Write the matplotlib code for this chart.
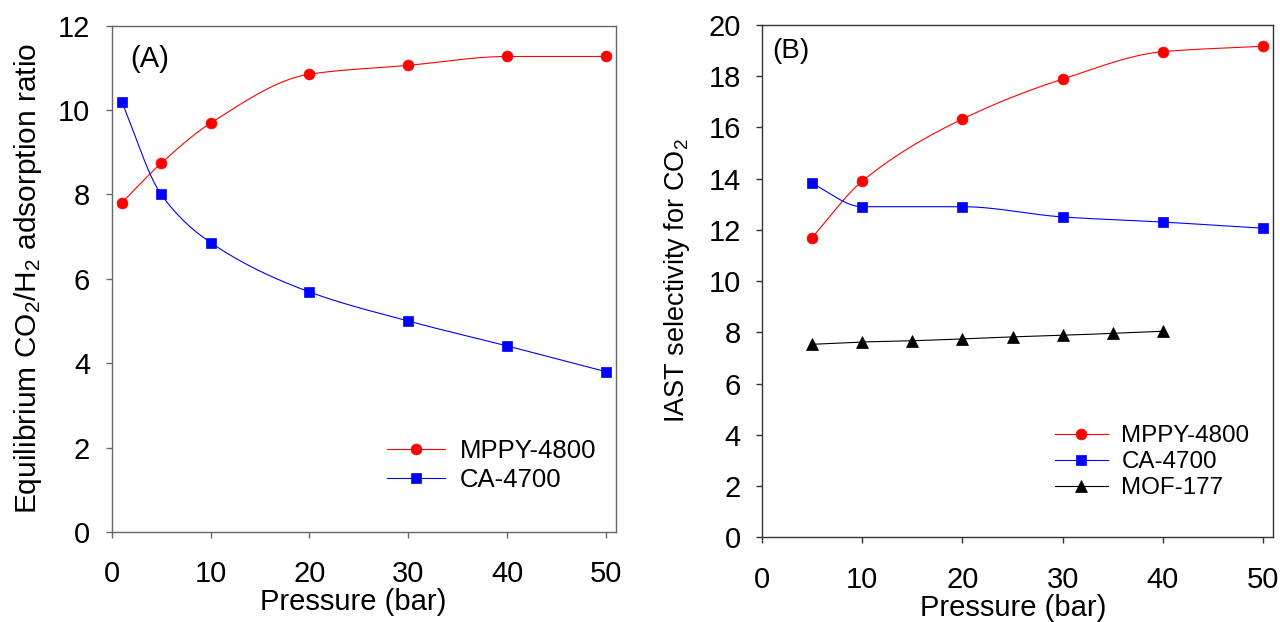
import numpy as np
import matplotlib
matplotlib.use("Agg")
import matplotlib.pyplot as plt
from matplotlib.lines import Line2D

plt.rcParams['font.family'] = ['Liberation Sans', 'DejaVu Sans']
plt.rcParams['mathtext.fontset'] = 'custom'
plt.rcParams['mathtext.rm'] = 'Liberation Sans'
plt.rcParams['mathtext.it'] = 'Liberation Sans'
plt.rcParams['mathtext.default'] = 'regular'

# Panel A data
pressure_a = [1, 5, 10, 20, 30, 40, 50]
mppy_a = [7.8, 8.74, 9.69, 10.85, 11.06, 11.27, 11.27]
ca_a = [10.2, 8.0, 6.86, 5.69, 5.0, 4.41, 3.8]

# Panel B data
pressure_b = [5, 10, 20, 30, 40, 50]
mppy_b = [11.69, 13.89, 16.32, 17.88, 18.95, 19.16]
ca_b = [13.81, 12.9, 12.9, 12.5, 12.3, 12.06]
pressure_mof = [5, 10, 15, 20, 25, 30, 35, 40]
mof_b = [7.53, 7.62, 7.67, 7.74, 7.82, 7.88, 7.96, 8.04]


def pchip(x, y, n=300):
    """Monotone cubic (Fritsch-Carlson) curve through the data points."""
    x = np.asarray(x, float)
    y = np.asarray(y, float)
    h = np.diff(x)
    d = np.diff(y) / h
    m = np.zeros_like(y)
    for k in range(1, len(x) - 1):
        if d[k - 1] * d[k] > 0:
            w1 = 2 * h[k] + h[k - 1]
            w2 = h[k] + 2 * h[k - 1]
            m[k] = (w1 + w2) / (w1 / d[k - 1] + w2 / d[k])
    m[0] = d[0]
    m[-1] = d[-1]
    xs = np.linspace(x[0], x[-1], n)
    idx = np.clip(np.searchsorted(x, xs) - 1, 0, len(x) - 2)
    t = (xs - x[idx]) / h[idx]
    hh = h[idx]
    h00 = 2 * t**3 - 3 * t**2 + 1
    h10 = t**3 - 2 * t**2 + t
    h01 = -2 * t**3 + 3 * t**2
    h11 = t**3 - t**2
    ys = h00 * y[idx] + h10 * hh * m[idx] + h01 * y[idx + 1] + h11 * hh * m[idx + 1]
    return xs, ys


RED = '#ff0000'
BLUE = '#0000ff'
FS = 21

fig = plt.figure(figsize=(12.8, 6.22), dpi=100)
axA = fig.add_axes([0.0873, 0.1447, 0.39375, 0.814])
axB = fig.add_axes([0.5951, 0.1362, 0.3997, 0.824])


def style(ax, spine_color, ypad):
    for s in ax.spines.values():
        s.set_color(spine_color)
        s.set_linewidth(1.0)
    ax.tick_params(direction='out', length=4.5, width=1, color=spine_color,
                   labelsize=FS, top=False, right=False)
    ax.tick_params(axis='x', pad=16)
    ax.tick_params(axis='y', pad=ypad)


def series(ax, x, y, color, marker, ms, label):
    xs, ys = pchip(x, y)
    ax.plot(xs, ys, color=color, lw=0.8, zorder=2)
    ax.plot(x, y, linestyle='none', marker=marker, color=color, ms=ms,
            markeredgecolor=color, markeredgewidth=0.5, zorder=3)
    return Line2D([], [], color=color, lw=0.8, marker=marker, ms=ms,
                  markeredgecolor=color, markeredgewidth=0.5, label=label)


# Panel A
hA = [series(axA, pressure_a, mppy_a, RED, 'o', 7.8, 'MPPY-4800'),
      series(axA, pressure_a, ca_a, BLUE, 's', 7.0, 'CA-4700')]
axA.set_xlim(0, 51)
axA.set_ylim(0, 12)
axA.set_xticks([0, 10, 20, 30, 40, 50])
axA.set_yticks([0, 2, 4, 6, 8, 10, 12])
style(axA, '#666666', 11)
axA.set_xlabel('Pressure (bar)', fontsize=FS, labelpad=0)
axA.xaxis.label.set_x(0.48)
axA.set_ylabel('Equilibrium CO$_2$/H$_2$ adsorption ratio', fontsize=21.5, labelpad=10)
axA.text(0.036, 0.962, '(A)', transform=axA.transAxes, fontsize=21,
         ha='left', va='top')
axA.legend(handles=hA, loc='upper left', bbox_to_anchor=(0.546, 0.184),
           borderpad=0, borderaxespad=0, frameon=False, fontsize=18.5,
           handlelength=2.25, handletextpad=0.6, labelspacing=0.19)

# Panel B
hB = [series(axB, pressure_b, mppy_b, RED, 'o', 7.8, 'MPPY-4800'),
      series(axB, pressure_b, ca_b, BLUE, 's', 7.0, 'CA-4700'),
      series(axB, pressure_mof, mof_b, 'black', '^', 8.2, 'MOF-177')]
axB.set_xlim(0, 51)
axB.set_ylim(0, 20)
axB.set_xticks([0, 10, 20, 30, 40, 50])
axB.set_yticks(list(range(0, 21, 2)))
style(axB, '#333333', 10.5)
axB.set_xlabel('Pressure (bar)', fontsize=FS, labelpad=0.5)
axB.xaxis.label.set_x(0.491)
axB.set_ylabel('IAST selectivity for CO$_2$', fontsize=19.5, labelpad=12)
axB.text(0.02, 0.974, '(B)', transform=axB.transAxes, fontsize=20,
         ha='left', va='top')
axB.legend(handles=hB, loc='upper left', bbox_to_anchor=(0.573, 0.219),
           borderpad=0, borderaxespad=0, frameon=False, fontsize=17.4,
           handlelength=2.2, handletextpad=0.55, labelspacing=0.175)

fig.savefig('out.png', dpi=100)
